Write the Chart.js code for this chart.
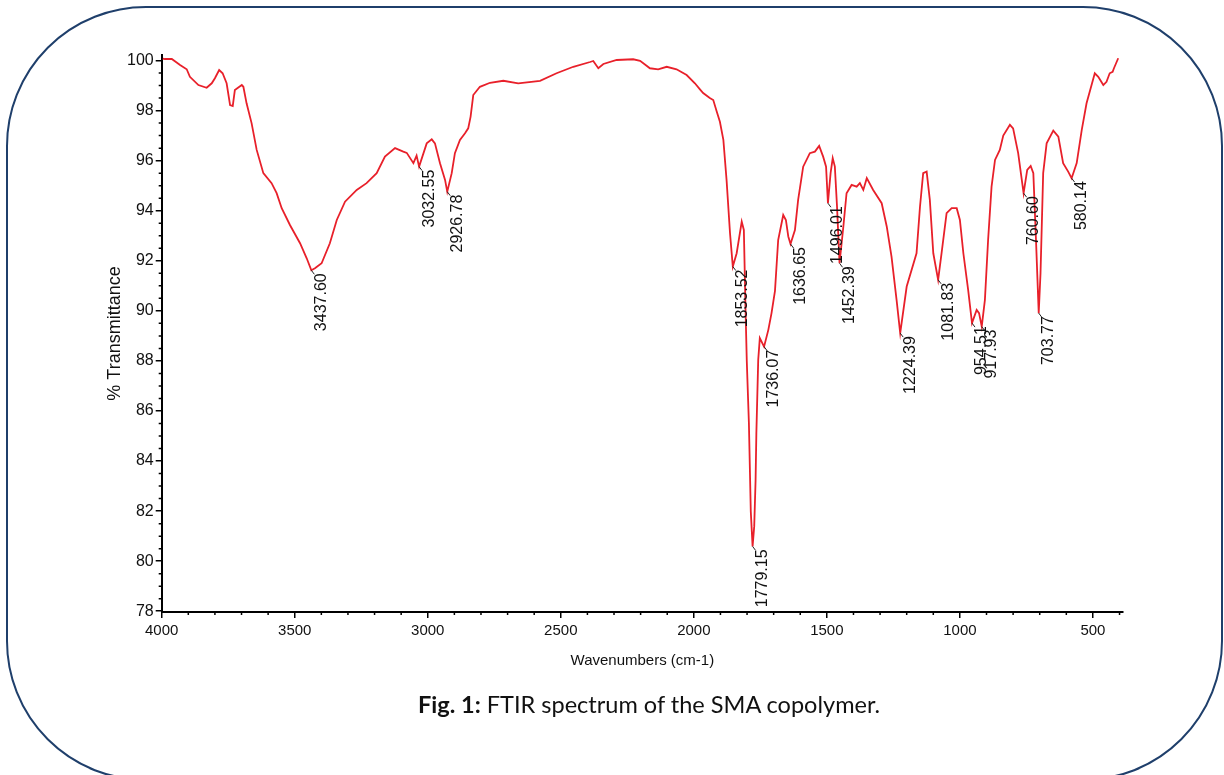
<!DOCTYPE html>
<html>
<head>
<meta charset="utf-8">
<title>FTIR spectrum of the SMA copolymer</title>
<script src="https://cdn.jsdelivr.net/npm/chart.js@4.4.1/dist/chart.umd.min.js"></script>
<style>
  html, body { margin: 0; padding: 0; background: #fff; overflow: hidden; }
  #wrap { position: relative; width: 1224px; height: 775px; overflow: hidden; }
  #chart { position: absolute; left: 0; top: 0; }
  #frame { position: absolute; left: 6px; top: 6px; width: 1213px; height: 771px; border: 2px solid #1f3f6b; border-radius: 140px; pointer-events: none; }
  #caption { position: absolute; left: 418px; top: 690px; font-family: Lato, "Open Sans", sans-serif; font-size: 24px; line-height: 1.2; color: #111; white-space: nowrap; }
</style>
</head>
<body>
<div id="wrap">
  <canvas id="chart" width="1224" height="775"></canvas>
  <div id="frame"></div>
  <div id="caption"><b>Fig. 1:</b> FTIR spectrum of the SMA copolymer.</div>
</div>
<script>
// spectrum (wavenumber cm-1 / % transmittance)
const wavenumbers = [
  3996, 3988, 3962, 3931, 3906, 3894, 3862, 3831, 3812, 3800, 3784, 3771, 3756, 3743, 3733, 3725,
  3699, 3693, 3681, 3662, 3643, 3618, 3587, 3568, 3549, 3518, 3480, 3455, 3437.6, 3424, 3399, 3368,
  3342, 3311, 3267, 3230, 3192, 3161, 3123, 3092, 3079, 3054, 3042, 3032.55, 3004, 2985, 2973, 2954,
  2935, 2926.78, 2910, 2898, 2879, 2860, 2848, 2839, 2829, 2804, 2766, 2716, 2660, 2578, 2516, 2453,
  2390, 2378, 2359, 2340, 2290, 2228, 2202, 2165, 2134, 2102, 2065, 2027, 1996, 1977, 1965, 1940,
  1927, 1914, 1902, 1889, 1877, 1864, 1853.52, 1839, 1820, 1812, 1806, 1801, 1793, 1789, 1786, 1779.15,
  1773, 1768, 1765, 1758, 1752, 1736.07, 1720, 1708, 1695, 1683, 1664, 1654, 1645, 1636.65, 1620, 1608,
  1589, 1564, 1545, 1529, 1514, 1503, 1496.01, 1486, 1478, 1470, 1462, 1452.39, 1438, 1426, 1407, 1388,
  1376, 1363, 1350, 1326, 1294, 1275, 1257, 1238, 1224.39, 1200, 1163, 1150, 1138, 1125, 1113, 1100,
  1081.83, 1069, 1050, 1031, 1012, 1000, 987, 969, 954.51, 937, 928, 917.93, 906, 894, 881, 868,
  850, 837, 812, 800, 781, 760.6, 747, 734, 724, 714, 703.77, 697, 687, 674, 649, 630,
  612, 593, 580.14, 561, 542, 524, 493, 480, 461, 449, 437, 426, 421, 405
]
const transmittance = [
  100.08, 100.06, 100.06, 99.82, 99.65, 99.35, 99.02, 98.91, 99.09, 99.29, 99.62, 99.49, 99.09, 98.22, 98.18, 98.82,
  99.02, 98.95, 98.29, 97.49, 96.43, 95.5, 95.1, 94.7, 94.1, 93.43, 92.7, 92.1, 91.62, 91.7, 91.9, 92.7,
  93.63, 94.36, 94.83, 95.1, 95.5, 96.16, 96.5, 96.36, 96.31, 95.9, 96.2, 95.76, 96.69, 96.85, 96.69, 95.9,
  95.23, 94.76, 95.5, 96.3, 96.83, 97.09, 97.29, 97.76, 98.62, 98.95, 99.11, 99.19, 99.09, 99.19, 99.49, 99.75,
  99.94, 99.98, 99.69, 99.86, 100.02, 100.05, 99.99, 99.69, 99.65, 99.75, 99.65, 99.42, 99.09, 98.85, 98.7, 98.5,
  98.42, 97.96, 97.55, 96.83, 95.23, 93.1, 91.77, 92.3, 93.56, 93.23, 90.2, 88.0, 85.5, 83.5, 82.0, 80.59,
  81.4, 83.2, 85.1, 88.04, 88.91, 88.57, 89.24, 89.91, 90.8, 92.83, 93.83, 93.63, 92.97, 92.67, 93.23, 94.43,
  95.76, 96.3, 96.36, 96.59, 96.16, 95.76, 94.3, 95.5, 96.1, 95.76, 94.2, 91.9, 93.37, 94.7, 95.03, 94.96,
  95.1, 94.83, 95.3, 94.83, 94.3, 93.37, 92.17, 90.44, 89.11, 90.97, 92.3, 94.16, 95.5, 95.56, 94.43, 92.3,
  91.24, 92.3, 93.9, 94.1, 94.1, 93.63, 92.3, 90.84, 89.51, 90.04, 89.91, 89.37, 90.44, 92.83, 94.96, 96.03,
  96.43, 97.0, 97.43, 97.29, 96.3, 94.7, 95.63, 95.79, 95.5, 92.83, 89.91, 91.5, 95.5, 96.69, 97.2, 96.96,
  95.9, 95.56, 95.3, 95.9, 97.23, 98.29, 99.49, 99.35, 99.02, 99.15, 99.49, 99.55, 99.69, 100.09
]

// labelled band minima
const peakWavenumbers = [3437.60, 3032.55, 2926.78, 1853.52, 1779.15, 1736.07, 1636.65, 1496.01,
  1452.39, 1224.39, 1081.83, 954.51, 917.93, 760.60, 703.77, 580.14]
const peakTransmittance = [91.62, 95.76, 94.76, 91.77, 80.59, 88.57, 92.67, 94.3,
  91.9, 89.11, 91.24, 89.51, 89.37, 94.7, 89.91, 95.3]

const xTicks = [4000, 3500, 3000, 2500, 2000, 1500, 1000, 500]
const yTicks = [78, 80, 82, 84, 86, 88, 90, 92, 94, 96, 98, 100]

const FONT = '"Liberation Sans", Arial, sans-serif'

const peakLabels = {
  id: "peakLabels",
  afterDatasetsDraw(chart) {
    const { ctx, scales: { x, y } } = chart
    ctx.save()
    ctx.font = "16px " + FONT
    ctx.fillStyle = "#111"
    ctx.strokeStyle = "#222"
    ctx.lineWidth = 1
    peakWavenumbers.forEach((wn, i) => {
      const px = x.getPixelForValue(wn)
      const py = y.getPixelForValue(peakTransmittance[i])
      ctx.beginPath()
      ctx.moveTo(px, py)
      ctx.lineTo(px + 3, py + 4)
      ctx.stroke()
      ctx.save()
      ctx.translate(px + 10, py + 3)
      ctx.rotate(-Math.PI / 2)
      ctx.textAlign = "right"
      ctx.textBaseline = "middle"
      ctx.fillText(wn.toFixed(2), 0, 0)
      ctx.restore()
    })
    ctx.restore()
  },
}

const minorTicks = {
  id: "minorTicks",
  afterDraw(chart) {
    const { ctx, chartArea, scales: { x, y } } = chart
    ctx.save()
    ctx.strokeStyle = "#000"
    ctx.lineWidth = 1.5
    ctx.beginPath()
    for (let v = 400; v <= 4000; v += 100) {
      if (v % 500 === 0) continue
      const px = x.getPixelForValue(v)
      ctx.moveTo(px, chartArea.bottom)
      ctx.lineTo(px, chartArea.bottom + 3)
    }
    for (let v = 78; v <= 100; v += 0.5) {
      if (v % 2 === 0) continue
      const py = y.getPixelForValue(v)
      ctx.moveTo(chartArea.left, py)
      ctx.lineTo(chartArea.left - 3, py)
    }
    ctx.stroke()
    ctx.restore()
  },
}

new Chart(document.getElementById("chart"), {
  type: "line",
  data: {
    datasets: [{
      data: wavenumbers.map((wn, i) => ({ x: wn, y: transmittance[i] })),
      borderColor: "#e8202a",
      borderWidth: 1.8,
      pointRadius: 0,
      tension: 0,
      fill: false,
    }],
  },
  options: {
    responsive: false,
    animation: false,
    devicePixelRatio: 1,
    layout: { padding: { left: 100, right: 101, top: 55, bottom: 93 } },
    plugins: { legend: { display: false }, tooltip: { enabled: false } },
    scales: {
      x: {
        type: "linear",
        reverse: true,
        min: 387,
        max: 4000,
        afterBuildTicks: (s) => { s.ticks = xTicks.map((v) => ({ value: v })) },
        afterFit: (s) => { s.height = 70 },
        border: { display: true, color: "#000", width: 2 },
        grid: { drawOnChartArea: false, drawTicks: true, tickLength: 6, color: "#000", lineWidth: 1.5 },
        ticks: { color: "#111", font: { family: FONT, size: 15 }, padding: 4, maxRotation: 0, autoSkip: false, callback: (v) => String(v) },
        title: { display: true, text: "Wavenumbers (cm-1)", color: "#111", font: { family: FONT, size: 15 }, padding: { top: 0, bottom: 12 } },
      },
      y: {
        type: "linear",
        min: 77.97,
        max: 100.22,
        afterBuildTicks: (s) => { s.ticks = yTicks.map((v) => ({ value: v })) },
        afterFit: (s) => { s.width = 61.7 },
        border: { display: true, color: "#000", width: 2 },
        grid: { drawOnChartArea: false, drawTicks: true, tickLength: 6, color: "#000", lineWidth: 1.5 },
        ticks: { color: "#111", font: { family: FONT, size: 16 }, padding: 2, autoSkip: false, callback: (v) => String(v) },
        title: { display: true, text: "% Transmittance", color: "#111", font: { family: FONT, size: 18 }, padding: { top: 4, bottom: 0 } },
      },
    },
  },
  plugins: [peakLabels, minorTicks],
})

// fit the caption to the width it has in the figure
const cap = document.getElementById("caption")
cap.style.fontSize = (24 * 462 / cap.offsetWidth).toFixed(2) + "px"
</script>
</body>
</html>
